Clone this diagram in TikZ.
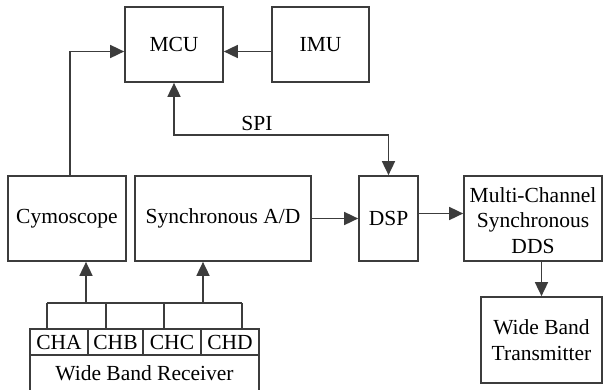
\documentclass[tikz,border=0pt]{standalone}
\usepackage{fontspec}
\setmainfont{Liberation Serif}
\newfontfamily\fonteserif{Liberation Serif}
\usepackage{color}
\usepackage{tikz}
\definecolor{gray700}{HTML}{3C3C3C}
\usetikzlibrary{arrows.meta}
\tikzstyle{bloco}=[rectangle, draw=gray700, line width=1.7pt, inner sep=0pt, align=center]
\tikzstyle{fio}=[draw=gray700, line width=1.7pt]
\tikzstyle{seta}=[fio, -{Triangle[length=14pt,width=13pt]}]
\tikzstyle{setadupla}=[fio, {Triangle[length=14pt,width=13pt]}-{Triangle[length=14pt,width=13pt]}]

\begin{document}
\begin{tikzpicture}[x=1pt, y=-1pt, font=\fonteserif\fontsize{21.5}{25.5}\selectfont]
	\useasboundingbox (0,0) rectangle (603,389);
	\clip (0,0) rectangle (603,389);
	% top row
	\node[bloco, minimum width=98pt, minimum height=75pt] (mcu) at (174,44.5){MCU};
	\node[bloco, minimum width=97pt, minimum height=75pt] (imu) at (320.5,44.5){IMU};
	% middle row
	\node[bloco, minimum width=118pt, minimum height=85pt] (cymo) at (67,218.5){Cymoscope};
	\node[bloco, minimum width=176pt, minimum height=85pt] (sync) at (223,218.5){Synchronous A/D};
	\node[bloco, minimum width=59pt, minimum height=85pt] (dsp) at (388.5,218.5){DSP};
	\node[bloco, minimum width=138pt, minimum height=85pt] (dds) at (533,218.5){\raisebox{-4pt}[\height][\depth]{\begin{tabular}{@{}c@{}}Multi-Channel\\Synchronous\\DDS\end{tabular}}};
	\node[bloco, minimum width=121pt, minimum height=86pt] (tx) at (541.5,340){Wide Band\\Transmitter};
	% receiver
	\node[bloco, minimum width=58pt, minimum height=26pt] (cha) at (59,342){CHA};
	\node[bloco, minimum width=55pt, minimum height=26pt] (chb) at (115.5,342){CHB};
	\node[bloco, minimum width=58pt, minimum height=26pt] (chc) at (172,342){CHC};
	\node[bloco, minimum width=58pt, minimum height=26pt] (chd) at (230,342){CHD};
	\node[bloco, minimum width=229pt, minimum height=36pt] (rx) at (144.5,373){Wide Band Receiver};
	\node (spi) at (257,123){SPI};
	% bus
	\coordinate (ta) at (47,303);
	\coordinate (tb) at (106,303);
	\coordinate (tc) at (164,303);
	\coordinate (td) at (242,303);
	\coordinate (tcy) at (86,303);
	\coordinate (tsy) at (203,303);
	\coordinate (cyx) at (70,0);
	\path[fio] (ta) -- (td);
	\path[fio] (ta) -- (ta |- cha.north);
	\path[fio] (tb) -- (tb |- chb.north);
	\path[fio] (tc) -- (tc |- chc.north);
	\path[fio] (td) -- (td |- chd.north);
	\path[seta] (tcy) -- (tcy |- cymo.south);
	\path[seta] (tsy) -- (tsy |- sync.south);
	% connections
	\path[seta] (cymo.north -| cyx) |- ([yshift=-7pt]mcu.west);
	\path[seta] ([yshift=-7pt]imu.west) -- ([yshift=-7pt]mcu.east);
	\path[setadupla] (mcu.south) -- ++(0,52) -| (dsp.north);
	\path[seta] (sync.east) -- (dsp.west);
	\path[seta] ([yshift=5pt]dsp.east) -- ([yshift=5pt]dsp.east -| dds.west);
	\path[seta] (tx.north |- dds.south) -- (tx.north);
\end{tikzpicture}
\end{document}
